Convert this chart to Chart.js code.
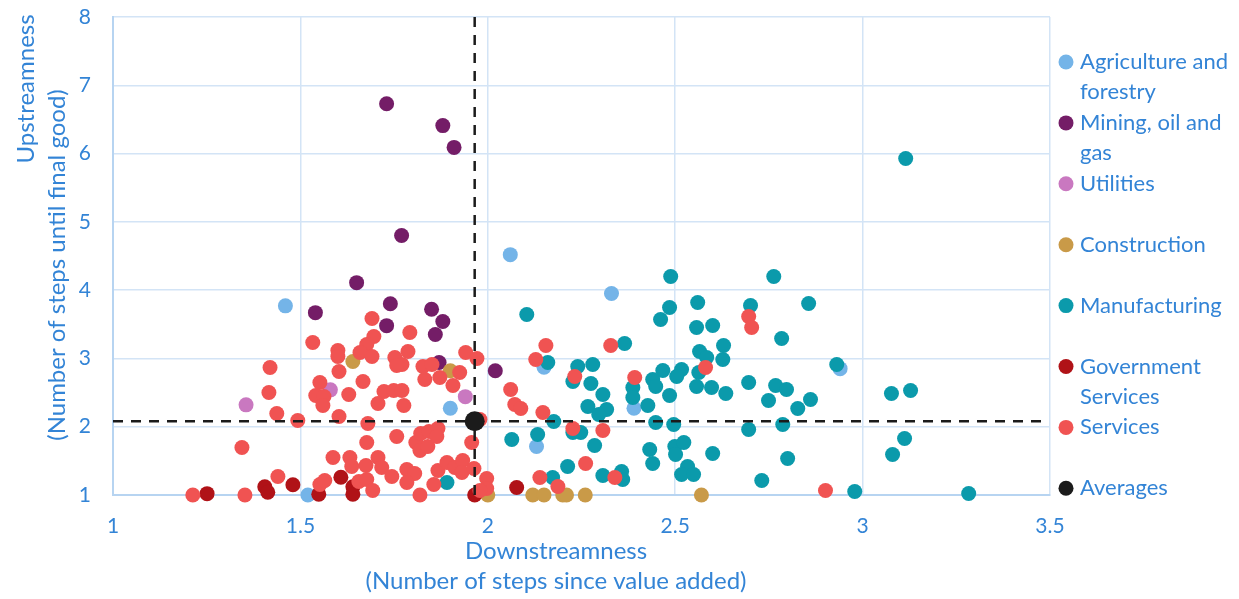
<!DOCTYPE html>
<html>
<head>
<meta charset="utf-8">
<script src="https://cdn.jsdelivr.net/npm/chart.js@4.4.1/dist/chart.umd.min.js"></script>
<style>
  body { margin: 0; background: #fff; }
  #wrap { width: 1239px; height: 599px; }
</style>
</head>
<body>
<div id="wrap"><canvas id="chart" width="1239" height="599"></canvas></div>
<script>
// SERIES SETUP
const seriesNames = [
  'Agriculture and forestry', 'Mining, oil and gas', 'Utilities', 'Construction',
  'Manufacturing', 'Government Services', 'Services', 'Averages'
];
const legendLines = [
  ['Agriculture and', 'forestry'], ['Mining, oil and', 'gas'], ['Utilities'], ['Construction'],
  ['Manufacturing'], ['Government', 'Services'], ['Services'], ['Averages']
];
const xTitle = ['Downstreamness', '(Number of steps since value added)'];
const yTitle = ['Upstreamness', '(Number of steps until final good)'];
const seriesColors = [
  '#74b4e8', '#741d67', '#c978c0', '#c99a48',
  '#0b9aab', '#b01217', '#f05352', '#1b1b1b'
];
const textBlue = '#3384d6';

// [downstreamness, upstreamness]
const agriculture = [
  [1.46, 3.77], [2.06, 4.52], [2.33, 3.95], [2.15, 2.87], [1.90, 2.27],
  [2.39, 2.27], [2.13, 1.71], [1.52, 1.0], [2.94, 2.85]
];
const mining = [
  [1.73, 6.73], [1.88, 6.41], [1.91, 6.09], [1.77, 4.80], [1.65, 4.11],
  [1.54, 3.67], [1.74, 3.80], [1.85, 3.72], [1.88, 3.54], [1.73, 3.48],
  [1.86, 3.35], [1.87, 2.94], [2.02, 2.82]
];
const utilities = [[1.355, 2.32], [1.58, 2.54], [1.94, 2.44]];
const construction = [
  [1.64, 2.955], [1.90, 2.82], [2.0, 1.0], [2.12, 1.0], [2.15, 1.0],
  [2.20, 1.0], [2.21, 1.0], [2.26, 1.0], [2.57, 1.0]
];
const manufacturing = [
  [2.488, 4.20], [2.763, 4.20], [2.485, 3.745], [2.461, 3.57], [2.56, 3.818],
  [2.557, 3.452], [2.60, 3.482], [2.701, 3.775], [2.856, 3.804], [2.784, 3.291],
  [2.629, 3.189], [2.627, 2.984], [2.565, 3.101], [2.584, 3.013], [2.563, 2.794],
  [2.517, 2.837], [2.504, 2.735], [2.467, 2.823], [2.44, 2.691], [2.448, 2.589],
  [2.485, 2.457], [2.427, 2.31], [2.557, 2.589], [2.597, 2.574], [2.635, 2.486],
  [2.696, 2.647], [2.768, 2.603], [2.797, 2.545], [2.749, 2.384], [2.861, 2.398],
  [2.827, 2.266], [2.931, 2.911], [2.448, 2.061], [2.496, 2.032], [2.696, 1.959],
  [2.787, 2.032], [2.432, 1.666], [2.44, 1.461], [2.499, 1.71], [2.523, 1.769],
  [2.501, 1.593], [2.60, 1.608], [2.80, 1.534], [2.533, 1.417], [2.517, 1.30],
  [2.549, 1.30], [2.731, 1.212], [2.979, 1.051], [2.357, 1.344], [2.36, 1.227],
  [2.307, 1.286], [2.213, 1.417], [2.173, 1.256], [2.285, 1.725], [2.267, 2.296],
  [2.317, 2.252], [2.296, 2.179], [2.307, 2.471], [2.275, 2.633], [2.227, 2.662],
  [2.24, 2.881], [2.28, 2.911], [2.16, 2.94], [2.104, 3.643], [2.365, 3.218],
  [2.176, 2.076], [2.227, 1.915], [2.248, 1.915], [2.133, 1.886], [2.064, 1.813],
  [2.387, 2.574], [2.387, 2.428], [1.891, 1.183], [3.115, 5.927], [3.077, 2.486],
  [3.128, 2.53], [3.112, 1.827], [3.08, 1.593], [3.283, 1.022]
];
const government = [
  [1.251, 1.02], [1.405, 1.12], [1.413, 1.04], [1.48, 1.15], [1.549, 1.01],
  [1.608, 1.26], [1.64, 1.12], [1.64, 1.01], [1.965, 1.0], [2.077, 1.11]
];
const services = [
  [1.213, 1.0], [1.352, 1.0], [1.344, 1.695], [1.419, 2.867], [1.416, 2.501],
  [1.437, 2.193], [1.493, 2.091], [1.44, 1.271], [1.533, 3.233], [1.60, 3.116],
  [1.60, 3.028], [1.603, 2.808], [1.552, 2.647], [1.541, 2.457], [1.563, 2.442],
  [1.56, 2.31], [1.603, 2.149], [1.629, 2.471], [1.632, 1.549], [1.587, 1.549],
  [1.552, 1.154], [1.565, 1.212], [1.667, 2.662], [1.691, 3.584], [1.696, 3.321],
  [1.677, 3.204], [1.659, 3.086], [1.691, 3.028], [1.792, 3.379], [1.787, 3.101],
  [1.752, 3.013], [1.771, 2.911], [1.757, 2.896], [1.827, 2.881], [1.851, 2.911],
  [1.832, 2.691], [1.872, 2.72], [1.907, 2.603], [1.925, 2.794], [1.941, 3.086],
  [1.971, 2.999], [1.723, 2.515], [1.749, 2.53], [1.771, 2.53], [1.707, 2.34],
  [1.776, 2.311], [1.68, 2.047], [1.677, 1.769], [1.757, 1.857], [1.808, 1.769],
  [1.821, 1.901], [1.843, 1.93], [1.867, 1.974], [1.864, 1.857], [1.819, 1.652],
  [1.84, 1.71], [1.957, 1.769], [1.979, 2.105], [1.637, 1.417], [1.675, 1.432],
  [1.707, 1.549], [1.717, 1.403], [1.744, 1.271], [1.784, 1.373], [1.805, 1.315],
  [1.784, 1.183], [1.656, 1.198], [1.677, 1.227], [1.693, 1.066], [1.819, 1.0],
  [1.856, 1.154], [1.867, 1.359], [1.891, 1.476], [1.912, 1.403], [1.933, 1.505],
  [1.931, 1.329], [1.963, 1.388], [1.997, 1.242], [1.997, 1.095], [1.979, 1.066],
  [2.061, 2.545], [2.072, 2.325], [2.088, 2.266], [2.147, 2.208], [2.155, 3.189],
  [2.128, 2.984], [2.227, 1.974], [2.307, 1.944], [2.328, 3.189], [2.232, 2.735],
  [2.392, 2.72], [2.261, 1.461], [2.139, 1.256], [2.187, 1.124], [2.339, 1.256],
  [2.696, 3.613], [2.704, 3.452], [2.581, 2.867], [2.901, 1.066]
];
const averages = [[1.965, 2.08]];

const allSeries = [agriculture, mining, utilities, construction, manufacturing, government, services];

// axis ranges
const xMin = 1, xMax = 3.5, xStep = 0.5;
const yMin = 1, yMax = 8, yStep = 1;
const avgX = averages[0][0], avgY = averages[0][1];

const toPoints = arr => arr.map(p => ({ x: p[0], y: p[1] }));

const datasets = allSeries.map((arr, i) => ({
  label: seriesNames[i],
  data: toPoints(arr),
  backgroundColor: seriesColors[i],
  borderWidth: 0,
  pointRadius: 7.5,
  pointHoverRadius: 7.5,
  clip: false,
  order: 20 - i
}));

// dashed average lines
datasets.push({
  label: 'avg-x',
  type: 'line',
  data: [{ x: avgX, y: yMin }, { x: avgX, y: yMax }],
  borderColor: '#1b1b1b',
  borderWidth: 2.5,
  borderDash: [10, 8],
  pointRadius: 0,
  showLine: true,
  fill: false,
  order: 2
});
datasets.push({
  label: 'avg-y',
  type: 'line',
  data: [{ x: xMin, y: avgY }, { x: 3.49, y: avgY }],
  borderColor: '#1b1b1b',
  borderWidth: 2.5,
  borderDash: [10, 8],
  pointRadius: 0,
  showLine: true,
  fill: false,
  clip: false,
  order: 2
});
datasets.push({
  label: seriesNames[7],
  data: toPoints(averages),
  backgroundColor: seriesColors[7],
  borderWidth: 0,
  pointRadius: 10,
  pointHoverRadius: 10,
  clip: false,
  order: 0
});

// LEGEND + AXIS TITLES
const sideLegend = {
  id: 'sideLegend',
  afterDraw(chart) {
    const ctx = chart.ctx;
    const area = chart.chartArea;
    const left = area.right + 16;
    ctx.save();
    ctx.font = '22px Lato';
    ctx.textBaseline = 'middle';
    legendLines.forEach((lines, i) => {
      const y = 62 + i * 60.9;
      ctx.fillStyle = seriesColors[i];
      ctx.beginPath();
      ctx.arc(left, y, 7.5, 0, Math.PI * 2);
      ctx.fill();
      ctx.fillStyle = textBlue;
      lines.forEach((t, j) => ctx.fillText(t, left + 14, y + j * 30));
    });

    // axis titles (Excel puts them slightly off-centre)
    ctx.font = '24px Lato';
    ctx.textAlign = 'center';
    ctx.fillText(xTitle[0], 556, 551);
    ctx.fillText(xTitle[1], 556, 581);
    ctx.save();
    ctx.translate(26, 89);
    ctx.rotate(-Math.PI / 2);
    ctx.fillText(yTitle[0], 0, 0);
    ctx.restore();
    ctx.save();
    ctx.translate(57, 265);
    ctx.rotate(-Math.PI / 2);
    ctx.fillText(yTitle[1], 0, 0);
    ctx.restore();
    ctx.restore();
  }
};

const config = {
  type: 'scatter',
  data: { datasets: datasets },
  options: {
    responsive: false,
    animation: false,
    layout: { padding: { left: 0, right: 189, top: 17, bottom: 0 } },
    plugins: {
      legend: { display: false },
      tooltip: { enabled: false }
    },
    scales: {
      x: {
        min: xMin,
        max: xMax,
        afterFit(scale) { scale.height = 104; },
        ticks: {
          stepSize: xStep,
          color: textBlue,
          font: { family: 'Lato', size: 21 },
          padding: 19,
          callback: v => String(v)
        },
        grid: { color: '#d3e4f6', lineWidth: 1.5, drawTicks: false },
        border: { color: '#b7d4f1', width: 2 }
      },
      y: {
        min: yMin,
        max: yMax,
        afterFit(scale) {
          scale.width = 113;
          scale.paddingTop = 0;
          scale.paddingBottom = 0;
        },
        ticks: {
          stepSize: yStep,
          color: textBlue,
          font: { family: 'Lato', size: 21 },
          padding: 22
        },
        grid: { color: '#d3e4f6', lineWidth: 1.5, drawTicks: false },
        border: { color: '#b7d4f1', width: 2 }
      }
    }
  },
  plugins: [sideLegend]
};

const ctx = document.getElementById('chart').getContext('2d');
const scatterChart = new Chart(ctx, config);
</script>
</body>
</html>
